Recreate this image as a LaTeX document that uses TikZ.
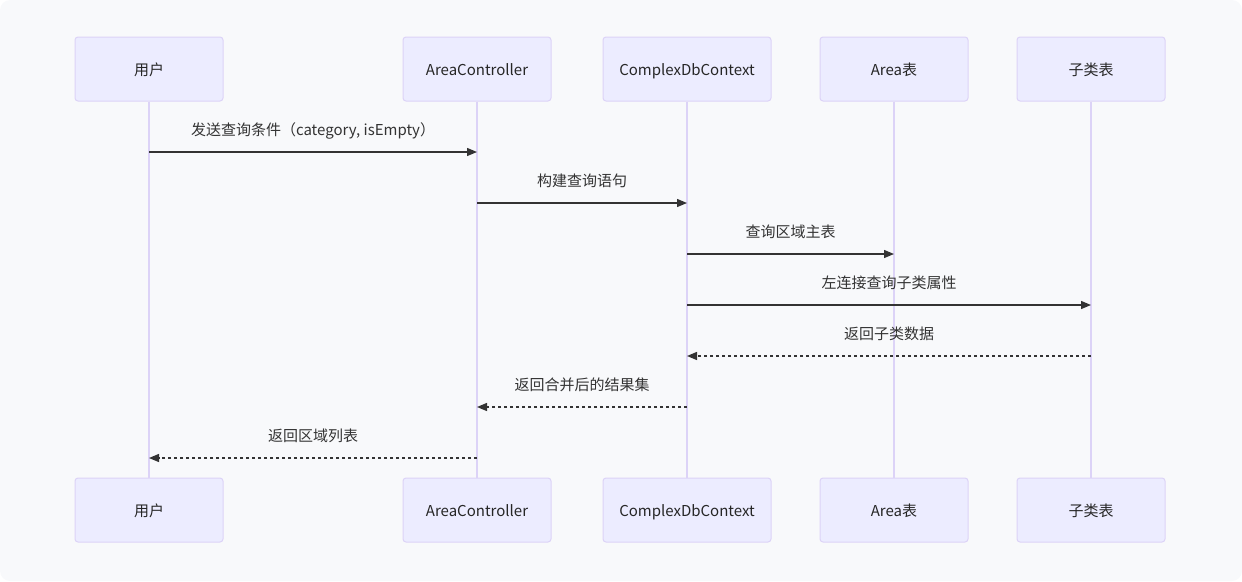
\documentclass[tikz,border=0pt]{standalone}
\usepackage{fontspec}
\setmainfont{Noto Sans CJK SC}
\usetikzlibrary{arrows.meta, positioning}

\definecolor{actfill}{HTML}{ECECFF}
\definecolor{actline}{HTML}{DCD3F7}
\definecolor{msgcol}{HTML}{333333}
\definecolor{bgcol}{HTML}{F8F9FB}

\begin{document}
\begin{tikzpicture}[
		x=1pt, y=-1pt,
		font=\fontsize{15}{17}\selectfont,
		actor/.style= {
				draw=actline,
				fill=actfill,
				line width=1pt,
				rounded corners=3pt,
				minimum width=148pt,
				minimum height=64pt,
				text height=13pt,
				text depth=1pt,
				text=black!85
			},
		life/.style= {
				draw=actline,
				line width=1.8pt
			},
		msg/.style= {
				draw=msgcol,
				line width=1.3pt,
				-{Triangle[length=10pt, width=8pt]}
			},
		reply/.style= {
				msg,
				dash pattern=on 3pt off 3pt
			},
		lbl/.style= {
				midway,
				above=10pt,
				text height=11pt,
				text depth=3pt,
				text=black!80
			}
	]

	\useasboundingbox (0,0) rectangle (1242,581);
	\fill[bgcol, rounded corners=10pt] (0,0) rectangle (1242,581);

	% top actors
	\node[actor] (user) at (149,69) {用户};
	\node[actor] (ctrl) at (477,69) {AreaController};
	\node[actor, minimum width=168pt] (ctx) at (687,69) {ComplexDbContext};
	\node[actor] (area) at (894,69) {Area表};
	\node[actor] (sub) at (1091,69) {子类表};

	% bottom actors
	\node[actor] (userB) at (149,510) {用户};
	\node[actor] (ctrlB) at (477,510) {AreaController};
	\node[actor, minimum width=168pt] (ctxB) at (687,510) {ComplexDbContext};
	\node[actor] (areaB) at (894,510) {Area表};
	\node[actor] (subB) at (1091,510) {子类表};

	% lifelines
	\draw[life] (user) -- (userB);
	\draw[life] (ctrl) -- (ctrlB);
	\draw[life] (ctx) -- (ctxB);
	\draw[life] (area) -- (areaB);
	\draw[life] (sub) -- (subB);

	% message end points
	\coordinate (m1a) at (149,152);
	\coordinate (m1b) at (477,152);
	\coordinate (m2a) at (477,203);
	\coordinate (m2b) at (687,203);
	\coordinate (m3a) at (687,254);
	\coordinate (m3b) at (894,254);
	\coordinate (m4a) at (687,305);
	\coordinate (m4b) at (1091,305);
	\coordinate (m5a) at (1091,356);
	\coordinate (m5b) at (687,356);
	\coordinate (m6a) at (687,407);
	\coordinate (m6b) at (477,407);
	\coordinate (m7a) at (477,458);
	\coordinate (m7b) at (149,458);

	\draw[msg] (m1a) to node[lbl] {发送查询条件（category, isEmpty）} (m1b);
	\draw[msg] (m2a) to node[lbl] {构建查询语句} (m2b);
	\draw[msg] (m3a) to node[lbl] {查询区域主表} (m3b);
	\draw[msg] (m4a) to node[lbl] {左连接查询子类属性} (m4b);
	\draw[reply] (m5a) to node[lbl] {返回子类数据} (m5b);
	\draw[reply] (m6a) to node[lbl] {返回合并后的结果集} (m6b);
	\draw[reply] (m7a) to node[lbl] {返回区域列表} (m7b);
\end{tikzpicture}
\end{document}
